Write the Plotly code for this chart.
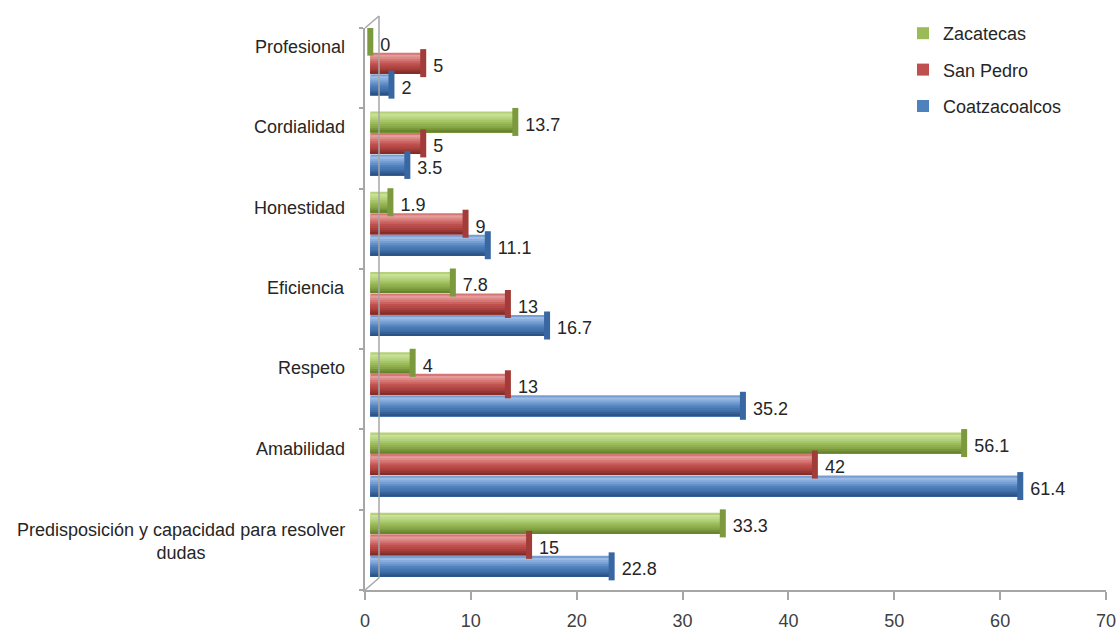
import plotly.graph_objects as go

# Categories listed bottom to top
categories = [
    "Predisposición y capacidad para resolver<br>dudas",
    "Amabilidad",
    "Respeto",
    "Eficiencia",
    "Honestidad",
    "Cordialidad",
    "Profesional",
]
series_names = ["Zacatecas", "San Pedro", "Coatzacoalcos"]
zacatecas = [33.3, 56.1, 4, 7.8, 1.9, 13.7, 0]
san_pedro = [15, 42, 13, 13, 9, 5, 5]
coatzacoalcos = [22.8, 61.4, 35.2, 16.7, 11.1, 3.5, 2]
x_ticks = [0, 10, 20, 30, 40, 50, 60, 70]

# Cylinder shading stops (bottom -> top) and end-cap colour
palettes = {
    "Zacatecas": dict(stops=["#5f7a27", "#86a645", "#9bbb59", "#b9d682", "#c9e196", "#a9c76a"],
                      main="#9bbb59", cap="#7c9a3d"),
    "San Pedro": dict(stops=["#7d2624", "#a9423f", "#c0504d", "#d9807d", "#e59c9a", "#cc6663"],
                      main="#c0504d", cap="#a23c39"),
    "Coatzacoalcos": dict(stops=["#254c7c", "#416fa8", "#4f81bd", "#7ea5d8", "#9cbbe4", "#6690c8"],
                          main="#4f81bd", cap="#3867a2"),
}
stop_pos = [0.0, 0.25, 0.45, 0.7, 0.85, 1.0]


def hex_to_rgb(h):
    h = h.lstrip("#")
    return [int(h[i:i + 2], 16) for i in (0, 2, 4)]


def shade(stops, t):
    for j in range(len(stop_pos) - 1):
        if stop_pos[j] <= t <= stop_pos[j + 1]:
            f = (t - stop_pos[j]) / (stop_pos[j + 1] - stop_pos[j])
            a, b = hex_to_rgb(stops[j]), hex_to_rgb(stops[j + 1])
            c = [round(a[k] + (b[k] - a[k]) * f) for k in range(3)]
            return "rgb({},{},{})".format(*c)
    return stops[-1]


# Plot area in pixels
L, R, T, B = 365, 1106, 28, 590
FIG_W, FIG_H = 1118, 631
PW, PH = R - L, B - T
n_cat = len(categories)
unit_px = PH / n_cat

group_shift = 5 / unit_px
series_step = 21.5 / unit_px
bar_w = 21 / unit_px
series_offsets = [series_step, 0, -series_step]
n_bands = 10

font_family = "Liberation Sans, Arial, sans-serif"
text_color = "#262626"
axis_color = "#a6a6a6"

fig = go.Figure()
# keeps the visible x axis attached to the plot
fig.add_trace(go.Scatter(x=[], y=[], showlegend=False, hoverinfo="skip"))

values_by_series = [zacatecas, san_pedro, coatzacoalcos]

for s, (name, vals) in enumerate(zip(series_names, values_by_series)):
    pal = palettes[name]
    yc = [i + group_shift + series_offsets[s] for i in range(n_cat)]
    # stacked shading bands: widest (top colour) first, each narrower one anchored at the bottom
    for k in range(n_bands - 1, -1, -1):
        frac = (k + 1) / n_bands
        w = bar_w * frac
        sh = -bar_w / 2 + w / 2
        fig.add_trace(go.Bar(
            x=vals, y=[y + sh for y in yc], width=w, orientation="h",
            marker=dict(color=shade(pal["stops"], (k + 0.5) / n_bands), line_width=0,
                        cornerradius=3),
            name=name, legendgroup=name, showlegend=False,
            xaxis="x2", hoverinfo="skip",
        ))
    # legend entry for the series
    fig.add_trace(go.Bar(
        x=[None], y=[None], orientation="h", marker=dict(color=pal["main"], line_width=0),
        name=name, legendgroup=name, showlegend=True, xaxis="x2", hoverinfo="skip",
    ))
    # end face of each cylinder
    fig.add_trace(go.Scatter(
        x=vals, y=yc, mode="markers",
        marker=dict(symbol="line-ns", size=20, line=dict(color=pal["cap"], width=6)),
        xaxis="x2", legendgroup=name, showlegend=False, hoverinfo="skip",
    ))
    # value labels
    fig.add_trace(go.Scatter(
        x=vals, y=[y - 0.055 for y in yc], mode="text",
        text=[f"  {v:g}" for v in vals], textposition="middle right",
        textfont=dict(size=18, color=text_color, family=font_family),
        xaxis="x2", legendgroup=name, showlegend=False, hoverinfo="skip",
    ))

# Category labels
for i, cat in enumerate(categories):
    two_line = "<br>" in cat
    fig.add_annotation(
        x=0, xref="paper", y=i, yref="y", xanchor="right", yanchor="middle",
        xshift=-18, yshift=8 if two_line else 21, align="center", showarrow=False,
        text=cat, font=dict(size=18, color=text_color, family=font_family),
    )

# 3D wall outline
dx, dy = 14 / PW, 12 / PH
line_style = dict(color=axis_color, width=1.5)
fig.add_shape(type="line", xref="paper", yref="paper", x0=0, y0=1, x1=dx, y1=1 + dy, line=line_style)
fig.add_shape(type="line", xref="paper", yref="paper", x0=dx, y0=1 + dy, x1=dx, y1=dy, line=line_style)
fig.add_shape(type="line", xref="paper", yref="paper", x0=0, y0=0, x1=dx, y1=dy, line=line_style)

fig.update_layout(
    width=FIG_W, height=FIG_H,
    margin=dict(l=L, r=FIG_W - R, t=T, b=FIG_H - B, autoexpand=False),
    paper_bgcolor="white", plot_bgcolor="white",
    barmode="overlay",
    font=dict(family=font_family, size=18, color=text_color),
    xaxis=dict(
        range=[0, 70], tickvals=x_ticks, showgrid=False, zeroline=False,
        showline=True, linecolor=axis_color, linewidth=1.5,
        ticks="outside", ticklen=8, tickcolor=axis_color, tickwidth=1.5,
        tickfont=dict(size=18, color="#404040"), ticklabelstandoff=6,
        automargin=False,
    ),
    xaxis2=dict(range=[-0.5, 69.5], overlaying="x", visible=False),
    yaxis=dict(
        range=[-0.5, n_cat - 0.5], tickvals=[i - 0.5 for i in range(n_cat + 1)],
        showticklabels=False, showgrid=False, zeroline=False,
        showline=True, linecolor=axis_color, linewidth=1.5,
        ticks="outside", ticklen=4, tickcolor=axis_color, tickwidth=1.5,
        automargin=False,
    ),
    legend=dict(
        x=(903 - L) / PW, y=(B - 15) / PH, xanchor="left", yanchor="top",
        font=dict(size=18, color=text_color, family=font_family),
        bgcolor="rgba(0,0,0,0)", tracegroupgap=10, itemwidth=30,
    ),
    showlegend=True,
)

fig.write_html("out.html")
